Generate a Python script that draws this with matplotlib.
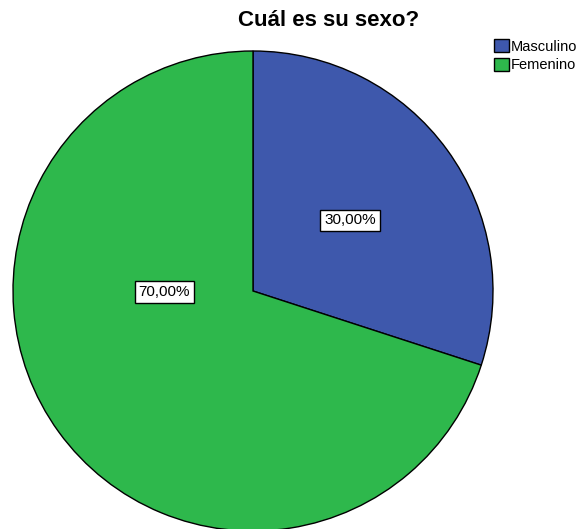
import matplotlib
matplotlib.use("Agg")
import matplotlib.pyplot as plt
import numpy as np

# data
labels = ["Masculino", "Femenino"]
values = [30.0, 70.0]
colors = ["#3E58AC", "#2EB84C"]
title = "Cuál es su sexo?"

plt.rcParams['font.family'] = ['Liberation Sans', 'DejaVu Sans']

W, H = 582, 529
fig = plt.figure(figsize=(W / 100, H / 100), dpi=100)
ax = fig.add_axes([0, 0, 1, 1])

cx, cy, r = 253, H - 291, 240

wedges, texts, autotexts = ax.pie(
    values, colors=colors, startangle=90, counterclock=False,
    center=(cx, cy), radius=r, frame=True,
    autopct=lambda p: ('%.2f%%' % p).replace('.', ','),
    pctdistance=0.5,
    wedgeprops=dict(edgecolor='black', linewidth=1.0),
    textprops=dict(fontsize=11, color='black'))
ax.set_xlim(0, W)
ax.set_ylim(0, H)
ax.set_aspect('equal')
ax.axis('off')

# the bigger slice gets its label toward the left side
ang = np.deg2rad(180.6)
autotexts[1].set_position((cx + 0.37 * r * np.cos(ang), cy + 0.37 * r * np.sin(ang)))
for t in autotexts:
    t.set_ha('center')
    t.set_va('center')
    t.set_bbox(dict(facecolor='white', edgecolor='black', linewidth=1.0,
                    boxstyle='square,pad=0.25'))

fig.text(329 / W, 1 - 20 / H, title, fontsize=16, fontweight='bold', ha='center', va='center')

ax.legend(wedges, labels, loc='upper left', bbox_to_anchor=(494 / W, 1 - 39 / H),
          bbox_transform=fig.transFigure, frameon=False, fontsize=10.5,
          handlelength=1.0, handleheight=1.0, handletextpad=0.15,
          labelspacing=0.3, borderpad=0, borderaxespad=0)

fig.savefig("out.png", dpi=100)
